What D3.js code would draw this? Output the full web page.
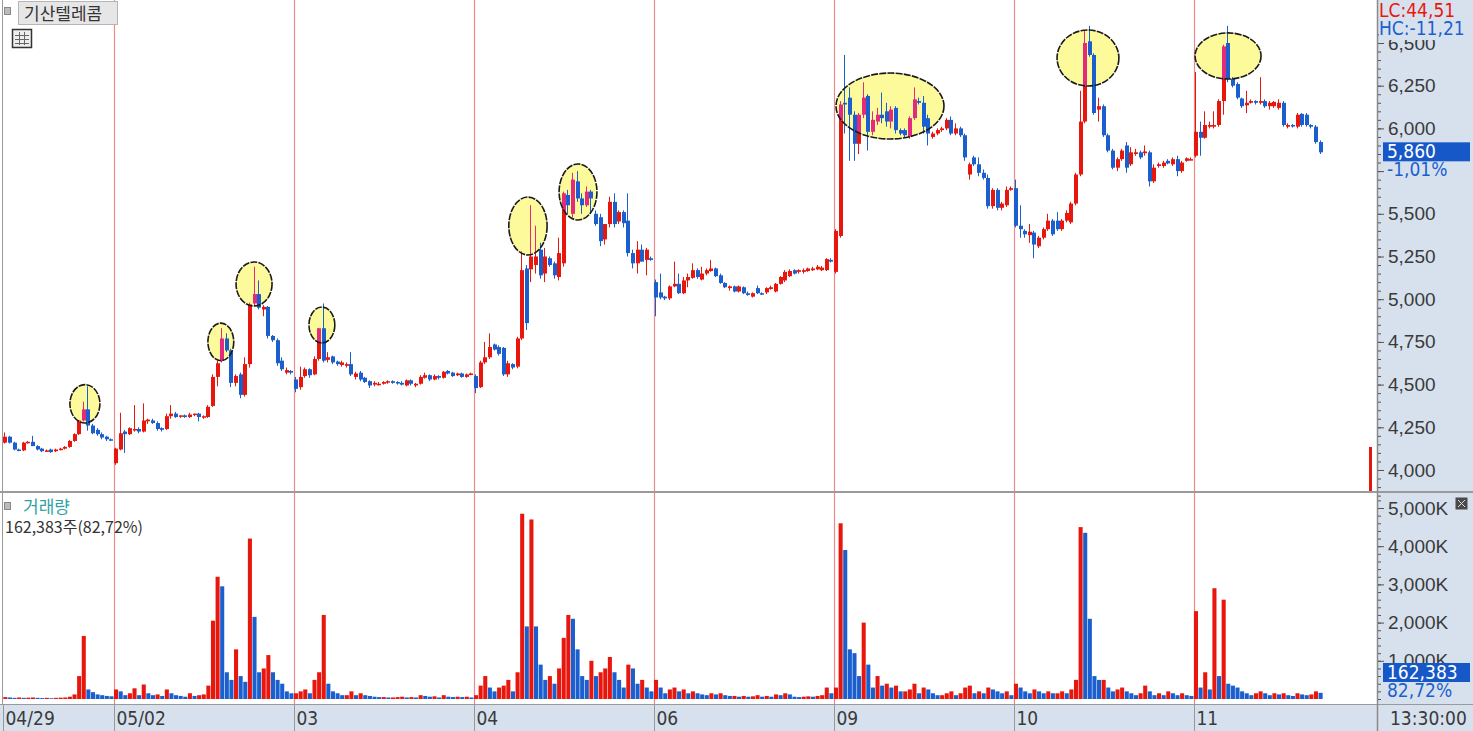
<!DOCTYPE html>
<html>
<head>
<meta charset="utf-8">
<script src="https://cdnjs.cloudflare.com/ajax/libs/d3/7.8.5/d3.min.js"></script>
<style>
body { margin: 0; background: #fff; }
svg { display: block; font-family: "Liberation Sans Narrow", "DejaVu Sans Condensed", "Noto Sans CJK KR", sans-serif; }
.kr { font-family: "Noto Sans CJK KR", sans-serif; }
</style>
</head>
<body>
<div id="chart"></div>
<script>
// 10분봉 / 거래량 데이터 (읽은 값)
const dayLabels = ["04/29", "05/02", "03", "04", "06", "09", "10", "11"];

// [시가, 고가, 저가, 종가]
const d0429 = [
  [4160,4220,4155,4195],[4195,4200,4155,4160],[4160,4165,4115,4120],[4120,4125,4110,4115],
  [4115,4165,4110,4160],[4160,4170,4155,4165],[4165,4200,4140,4140],[4140,4145,4115,4120],
  [4125,4130,4105,4110],[4110,4120,4105,4115],[4120,4125,4100,4105],[4110,4125,4105,4120],
  [4120,4130,4115,4125],[4125,4140,4120,4135],[4135,4175,4130,4170],[4170,4215,4165,4210],
  [4210,4290,4205,4290],[4290,4400,4285,4355],[4355,4490,4230,4260],[4260,4270,4210,4215],
  [4235,4245,4200,4210],[4210,4220,4180,4190],[4195,4200,4170,4180],[4180,4185,4170,4175]
];
const d0502 = [
  [4040,4130,4030,4125],[4120,4335,4115,4215],[4225,4235,4100,4210],[4210,4250,4205,4245],
  [4235,4380,4225,4240],[4240,4250,4215,4225],[4225,4390,4220,4290],[4285,4300,4270,4295],
  [4290,4300,4270,4275],[4275,4285,4230,4240],[4245,4250,4225,4235],[4240,4330,4235,4315],
  [4315,4380,4300,4330],[4330,4340,4305,4310],[4315,4320,4305,4320],[4320,4325,4305,4310],
  [4310,4335,4305,4325],[4325,4330,4315,4330],[4330,4335,4285,4310],[4310,4320,4300,4315],
  [4310,4380,4305,4370],[4375,4560,4370,4545],[4545,4640,4490,4625],[4640,4830,4630,4770],
  [4770,4800,4690,4700],[4700,4710,4485,4510],[4510,4560,4490,4550],[4560,4570,4420,4440],
  [4440,4660,4430,4620],[4620,4980,4600,4970],[4975,5190,4960,5030],[5030,5110,4940,4950],
  [4940,4965,4900,4955],[4955,4960,4770,4785],[4785,4790,4750,4760],[4760,4770,4610,4625],
  [4640,4660,4580,4590],[4570,4600,4560,4585],[4580,4585,4560,4570]
];
const d0503 = [
  [4530,4545,4455,4475],[4485,4605,4470,4545],[4550,4600,4540,4590],[4590,4595,4540,4555],
  [4560,4665,4555,4650],[4650,4830,4640,4830],[4830,4975,4630,4640],[4645,4690,4630,4660],
  [4665,4670,4620,4630],[4635,4640,4610,4620],[4615,4640,4605,4630],[4610,4630,4600,4620],
  [4620,4690,4550,4560],[4545,4575,4530,4565],[4570,4580,4520,4530],[4540,4545,4510,4515],
  [4520,4525,4480,4495],[4500,4520,4490,4510],[4505,4515,4495,4505],[4505,4520,4500,4515],
  [4515,4525,4505,4520],[4520,4525,4505,4510],[4515,4520,4500,4510],[4510,4520,4495,4500],
  [4495,4530,4490,4525],[4525,4530,4495,4505],[4495,4510,4485,4505],[4505,4555,4500,4545],
  [4540,4570,4535,4555],[4555,4560,4520,4530],[4530,4560,4525,4550],[4550,4555,4530,4540],
  [4540,4580,4535,4575],[4580,4585,4560,4565],[4570,4575,4545,4550],[4555,4570,4550,4565],
  [4565,4570,4540,4545],[4545,4565,4540,4560],[4560,4570,4555,4565]
];
const d0504 = [
  [4550,4560,4450,4480],[4485,4640,4480,4630],[4630,4750,4620,4660],[4660,4800,4650,4720],
  [4735,4740,4700,4705],[4720,4730,4670,4680],[4715,4720,4550,4560],[4560,4640,4545,4625],
  [4620,4625,4590,4600],[4605,4780,4595,4770],[4770,5280,4760,5170],[5180,5200,4820,4860],
  [5175,5550,5100,5250],[5200,5430,5150,5250],[5290,5330,5120,5140],[5150,5300,5100,5250],
  [5240,5250,5190,5200],[5210,5220,5120,5140],[5130,5360,5110,5270],[5210,5630,5190,5620],
  [5610,5640,5500,5550],[5500,5740,5480,5700],[5690,5750,5570,5590],[5590,5620,5500,5550],
  [5550,5660,5540,5630],[5630,5640,5500,5590],[5500,5520,5430,5440],[5480,5500,5310,5340],
  [5350,5440,5320,5440],[5440,5600,5420,5570],[5570,5620,5420,5440],[5455,5520,5440,5510],
  [5510,5520,5420,5445],[5460,5620,5250,5270],[5270,5290,5180,5210],[5210,5340,5150,5290],
  [5290,5320,5220,5220],[5230,5300,5140,5290],[5240,5250,5225,5230]
];
const d0506 = [
  [5100,5115,4900,5010],[5040,5150,5000,5010],[5015,5020,4995,5005],[5005,5080,4995,5075],
  [5075,5220,5070,5090],[5090,5150,5030,5035],[5035,5130,5030,5110],[5110,5150,5070,5130],
  [5125,5210,5120,5170],[5170,5180,5120,5130],[5115,5190,5110,5150],[5150,5180,5140,5170],
  [5165,5230,5160,5180],[5180,5185,5130,5135],[5140,5150,5090,5095],[5095,5100,5065,5070],
  [5065,5080,5050,5075],[5075,5080,5040,5045],[5045,5080,5040,5075],[5070,5075,5030,5035],
  [5035,5045,5020,5025],[5015,5040,5010,5035],[5065,5080,5030,5035],[5035,5040,5025,5030],
  [5040,5070,5030,5065],[5060,5080,5055,5070],[5045,5095,5040,5090],[5090,5135,5085,5130],
  [5110,5170,5100,5160],[5135,5175,5130,5165],[5170,5175,5145,5150],[5160,5175,5150,5170],
  [5160,5180,5150,5170],[5165,5185,5160,5180],[5170,5190,5165,5180],[5175,5200,5170,5190],
  [5170,5195,5165,5185],[5170,5240,5165,5235],[5230,5240,5215,5220]
];
const d0509 = [
  [5160,5410,5150,5400],[5370,6160,5360,6140],[6150,6430,5970,6140],[6180,6240,5810,6080],
  [6080,6100,5810,5910],[5910,6090,5850,6080],[6080,6270,6060,6180],[6190,6200,5870,5980],
  [5980,6100,5960,6050],[6040,6120,6020,6080],[6080,6210,6030,6060],[6100,6150,6010,6040],
  [6040,6130,6000,6110],[6120,6130,5970,5990],[5990,6000,5960,5970],[5990,6000,5950,5960],
  [5950,6070,5940,6060],[6060,6240,6050,6170],[6160,6180,6140,6150],[6150,6190,5970,6010],
  [6060,6080,5900,5970],[5950,5980,5940,5970],[5970,6000,5960,5990],[5990,6010,5980,6000],
  [6000,6060,5990,6050],[6050,6070,5960,5970],[5970,6030,5960,6000],[6000,6010,5950,5960],
  [5960,5970,5810,5830],[5730,5800,5700,5790],[5830,5840,5780,5790],[5790,5830,5720,5740],
  [5740,5760,5700,5710],[5710,5730,5530,5545],[5545,5650,5530,5640],[5640,5650,5520,5535],
  [5535,5570,5520,5560],[5550,5660,5540,5640],[5640,5660,5635,5650]
];
const d0510 = [
  [5650,5700,5420,5430],[5430,5550,5360,5410],[5400,5410,5360,5380],[5375,5440,5330,5395],
  [5390,5400,5240,5320],[5310,5370,5300,5360],[5360,5420,5350,5410],[5410,5500,5400,5460],
  [5460,5470,5370,5380],[5460,5510,5400,5410],[5410,5470,5400,5460],[5460,5520,5450,5505],
  [5450,5570,5440,5560],[5560,5740,5550,5730],[5730,6220,5720,6040],[6040,6570,6030,6500],
  [6510,6600,6420,6430],[6430,6440,6080,6090],[6110,6180,6040,6130],[6130,6140,5950,5960],
  [5960,5970,5860,5870],[5870,5880,5760,5770],[5770,5830,5750,5820],[5820,5880,5810,5870],
  [5900,5920,5740,5770],[5790,5890,5780,5860],[5850,5880,5840,5860],[5860,5870,5820,5830],
  [5855,5900,5840,5865],[5860,5870,5660,5690],[5690,5790,5680,5770],[5780,5800,5770,5790],
  [5780,5810,5770,5800],[5810,5820,5790,5795],[5790,5830,5780,5820],[5820,5840,5720,5750],
  [5750,5810,5740,5800],[5810,5830,5805,5825],[5820,5830,5815,5820]
];
const d0511 = [
  [5840,6330,5830,5980],[5980,6040,5840,5945],[5945,6100,5940,6020],[6010,6040,6000,6020],
  [6010,6100,6000,6020],[6020,6170,6010,6160],[6160,6490,6080,6480],[6500,6600,6270,6290],
  [6290,6300,6240,6250],[6260,6270,6170,6180],[6175,6180,6120,6130],[6135,6220,6090,6150],
  [6150,6170,6145,6160],[6160,6165,6140,6150],[6150,6300,6140,6160],[6160,6170,6120,6130],
  [6130,6160,6110,6150],[6130,6160,6120,6155],[6120,6170,6110,6150],[6150,6160,6010,6020],
  [6010,6030,6000,6020],[6020,6025,6005,6015],[6010,6090,6000,6080],[6085,6090,6010,6020],
  [6080,6090,6010,6020],[6020,6025,6000,6010],[6010,6020,5910,5920],[5920,5930,5850,5860]
];

// 거래량 (천주)
const v0429 = [50,40,30,40,30,35,40,30,25,30,20,30,35,40,60,120,600,1650,250,180,120,100,80,70];
const v0502 = [250,200,100,150,280,100,380,150,100,120,80,250,150,100,80,60,150,80,100,120,350,2050,3200,2950,700,500,1300,600,450,4200,2150,700,800,1150,700,500,400,200,150];
const v0503 = [150,200,250,150,500,700,2200,400,200,150,100,100,200,100,150,100,80,60,50,50,40,40,50,60,40,50,40,100,80,60,70,40,100,60,50,60,50,60,40];
const v0504 = [100,350,600,300,200,300,350,500,200,700,4850,1900,4700,1900,900,500,600,400,800,1600,2200,2100,1300,600,500,1000,600,700,800,1100,700,500,300,900,800,400,500,300,200];
const v0506 = [500,300,150,250,300,200,250,150,200,150,120,100,150,120,150,100,80,80,60,80,60,70,100,60,80,60,120,100,150,120,60,50,60,70,60,80,100,300,150];
const v0509 = [300,4600,3900,1300,1200,600,2000,900,300,600,350,400,300,350,200,200,250,400,150,300,250,150,100,100,150,200,100,150,300,350,150,200,150,300,250,200,150,200,100];
const v0510 = [400,300,200,150,250,200,150,200,150,150,200,150,250,500,4500,4350,2100,600,500,500,300,200,250,300,200,150,100,150,350,200,100,150,100,200,150,100,150,100,80];
const v0511 = [2300,300,700,250,2900,600,2600,400,350,300,200,150,100,150,200,150,100,150,120,150,100,80,150,120,100,120,200,162];

// 표시한 구간 (봉 번호, 가격)
const marks = [
  { i0: 14.5, i1: 21.0, p0: 4275, p1: 4500 },
  { i0: 44.4, i1: 50.0, p0: 4640, p1: 4860 },
  { i0: 50.5, i1: 58.3, p0: 4960, p1: 5218 },
  { i0: 66.3, i1: 71.9, p0: 4744, p1: 4954 },
  { i0: 109.6, i1: 117.9, p0: 5259, p1: 5598 },
  { i0: 120.5, i1: 128.7, p0: 5464, p1: 5792 },
  { i0: 180.5, i1: 203.9, p0: 5938, p1: 6324 },
  { i0: 228.4, i1: 241.8, p0: 6248, p1: 6576 },
  { i0: 258.3, i1: 272.6, p0: 6289, p1: 6559 }
];

const dayCandles = [d0429, d0502, d0503, d0504, d0506, d0509, d0510, d0511];
const dayVolumes = [v0429, v0502, v0503, v0504, v0506, v0509, v0510, v0511];

// 배열 합치기
let bars = [];
let dayStart = [];
dayCandles.forEach(function (day, k) {
  dayStart.push(bars.length);
  day.forEach(function (c, j) {
    bars.push({ i: bars.length, o: c[0], h: c[1], l: c[2], c: c[3], v: dayVolumes[k][j] });
  });
});
// 거래량 색: 전봉 거래량 대비
bars.forEach(function (d, i) {
  d.vUp = i === 0 ? true : d.v >= bars[i - 1].v;
});

const W = 1473, H = 731;
const RED = "#e8170e", BLUE = "#1b5fcf", PINK = "#e42a7c";
const AXBG = "#d7e1ee", TXT = "#3a3a3a";
const plotL = 3, step = 4.615, axisX = 1377;
const nBars = bars.length;

const xLin = d3.scaleLinear().domain([0, nBars]).range([plotL, plotL + nBars * step]);
const xb = d3.scaleBand().domain(d3.range(nBars)).range([plotL, plotL + nBars * step]).paddingInner(0.15).paddingOuter(0.075);
const xv = d3.scaleBand().domain(d3.range(nBars)).range([plotL, plotL + nBars * step]).paddingInner(0.12).paddingOuter(0.06);
const y = d3.scaleLinear().domain([4000, 6500]).range([470, 43]);
const yv = d3.scaleLinear().domain([0, 5000]).range([699, 508]);

const svg = d3.select("#chart").append("svg").attr("width", W).attr("height", H);
svg.append("rect").attr("width", W).attr("height", H).attr("fill", "#fff");

// 축 배경
svg.append("rect").attr("x", axisX).attr("y", 0).attr("width", W - axisX).attr("height", H).attr("fill", AXBG);
svg.append("rect").attr("x", 0).attr("y", 704).attr("width", W).attr("height", H - 704).attr("fill", AXBG);

// 날짜 구분선
dayStart.slice(1).forEach(function (s) {
  const xx = Math.round(xLin(s)) + 0.5;
  svg.append("line").attr("x1", xx).attr("x2", xx).attr("y1", 0).attr("y2", 704)
    .attr("stroke", "#ec8a8a").attr("stroke-width", 1.2);
});

function drawCandles(g, inMark) {
  const sel = g.selectAll("g.cd").data(bars).enter().append("g").attr("class", "cd");
  sel.append("line")
    .attr("x1", function (d) { return Math.round(xb(d.i)) + 1.5; })
    .attr("x2", function (d) { return Math.round(xb(d.i)) + 1.5; })
    .attr("y1", function (d) { return y(d.h); })
    .attr("y2", function (d) { return y(d.l); })
    .attr("stroke", function (d) { return d.c >= d.o ? (inMark ? PINK : RED) : BLUE; })
    .attr("stroke-width", 1);
  sel.append("rect")
    .attr("x", function (d) { return Math.round(xb(d.i)); })
    .attr("width", 4)
    .attr("y", function (d) { return y(Math.max(d.o, d.c)); })
    .attr("height", function (d) { return Math.max(1.5, Math.abs(y(d.o) - y(d.c))); })
    .attr("fill", function (d) { return d.c >= d.o ? (inMark ? PINK : RED) : BLUE; });
}

const main = svg.append("g");
drawCandles(main, false);

// 표시 타원
const defs = svg.append("defs");
marks.forEach(function (m, k) {
  const cx = (xLin(m.i0) + xLin(m.i1)) / 2, rx = (xLin(m.i1) - xLin(m.i0)) / 2;
  const cy = (y(m.p0) + y(m.p1)) / 2, ry = Math.abs(y(m.p0) - y(m.p1)) / 2;
  defs.append("clipPath").attr("id", "mk" + k).append("ellipse")
    .attr("cx", cx).attr("cy", cy).attr("rx", rx).attr("ry", ry);
  svg.append("ellipse").attr("cx", cx).attr("cy", cy).attr("rx", rx).attr("ry", ry)
    .attr("fill", "#fdfa9c");
  const g = svg.append("g").attr("clip-path", "url(#mk" + k + ")");
  drawCandles(g, true);
  svg.append("ellipse").attr("cx", cx).attr("cy", cy).attr("rx", rx).attr("ry", ry)
    .attr("fill", "none").attr("stroke", "#1a1a1a").attr("stroke-width", 1.6)
    .attr("stroke-dasharray", "7,1.2");
});

// 거래량
svg.append("g").selectAll("rect").data(bars).enter().append("rect")
  .attr("x", function (d) { return xv(d.i); })
  .attr("width", xv.bandwidth())
  .attr("y", function (d) { return yv(d.v); })
  .attr("height", function (d) { return yv(0) - yv(d.v); })
  .attr("fill", function (d) { return d.vUp ? RED : BLUE; });

// 현재가 범위 표시
svg.append("rect").attr("x", axisX - 8).attr("width", 3).attr("y", y(4135)).attr("height", 491 - y(4135)).attr("fill", RED);

// 패널 경계선
svg.append("line").attr("x1", 0).attr("x2", W).attr("y1", 492).attr("y2", 492).attr("stroke", "#9a9a9a").attr("stroke-width", 2);
svg.append("line").attr("x1", 0).attr("x2", W).attr("y1", 704.5).attr("y2", 704.5).attr("stroke", "#9a9a9a");
svg.append("line").attr("x1", 2.5).attr("x2", 2.5).attr("y1", 0).attr("y2", 704).attr("stroke", "#9a9a9a");
svg.append("line").attr("x1", axisX + 0.5).attr("x2", axisX + 0.5).attr("y1", 0).attr("y2", H).attr("stroke", "#8a8a8a").attr("stroke-width", 1.5);

// 가격 축 (5,750 라벨은 현재가 표시에 가려짐)
const lastBar = bars[nBars - 1];
const yAxis = d3.axisRight(y).tickValues(d3.range(4000, 6501, 250))
  .tickFormat(function (d) { return Math.abs(y(d) - y(lastBar.c) - 18) < 12 ? "" : d3.format(",")(d); })
  .tickSize(6).tickPadding(4);
svg.append("g").attr("transform", "translate(" + (axisX + 1) + ",0)").call(yAxis);
const yMinor = d3.axisRight(y).tickValues(d3.range(3850, 6551, 50)).tickFormat("").tickSize(3);
svg.append("g").attr("transform", "translate(" + (axisX + 1) + ",0)").call(yMinor);

// 거래량 축
const vAxis = d3.axisRight(yv).tickValues(d3.range(1000, 5001, 1000)).tickFormat(function (d) { return d3.format(",")(d) + "K"; }).tickSize(6).tickPadding(4);
svg.append("g").attr("transform", "translate(" + (axisX + 1) + ",0)").call(vAxis);
const vMinor = d3.axisRight(yv).tickValues(d3.range(0, 5201, 200)).tickFormat("").tickSize(3);
svg.append("g").attr("transform", "translate(" + (axisX + 1) + ",0)").call(vMinor);

svg.selectAll(".domain").remove();
svg.selectAll(".tick line").attr("stroke", "#555");
svg.selectAll(".tick text").attr("fill", TXT).style("font-size", "19px");

// LC / HC
svg.append("rect").attr("x", axisX + 2).attr("y", 0).attr("width", W - axisX - 2).attr("height", 40).attr("fill", AXBG);
svg.append("text").attr("x", axisX + 2).attr("y", 17).attr("fill", RED).style("font-size", "19px").text("LC:44,51");
svg.append("text").attr("x", axisX + 2).attr("y", 35).attr("fill", BLUE).style("font-size", "19px").text("HC:-11,21");

// 현재가 태그
const tagY = y(lastBar.c);
svg.append("rect").attr("x", 1383).attr("y", tagY - 10).attr("width", 87).attr("height", 19).attr("fill", "#1658c8");
svg.append("text").attr("x", 1387).attr("y", tagY + 6).attr("fill", "#fff").style("font-size", "19px").text(d3.format(",")(lastBar.c));
svg.append("text").attr("x", 1387).attr("y", tagY + 24).attr("fill", BLUE).style("font-size", "19px").text("-1,01%");

// 거래량 태그
svg.append("rect").attr("x", 1383).attr("y", 663).attr("width", 87).attr("height", 19).attr("fill", "#1658c8");
svg.append("text").attr("x", 1387).attr("y", 679).attr("fill", "#fff").style("font-size", "19px").text("162,383");
svg.append("text").attr("x", 1387).attr("y", 697).attr("fill", BLUE).style("font-size", "19px").text("82,72%");

// 작은 아이콘
svg.append("rect").attr("x", 1455.5).attr("y", 497.5).attr("width", 12).attr("height", 12).attr("fill", "#4a4a4a");
svg.append("path").attr("d", "M1458,500 l7,7 M1465,500 l-7,7").attr("stroke", "#ddd").attr("stroke-width", 1);

// X 축 (날짜)
dayStart.forEach(function (s, k) {
  const xx = Math.round(xLin(s)) + 0.5;
  svg.append("line").attr("x1", xx).attr("x2", xx).attr("y1", 705).attr("y2", H).attr("stroke", "#999");
  svg.append("text").attr("x", xx + 2).attr("y", 725).attr("fill", TXT).style("font-size", "19px").text(dayLabels[k]);
});
svg.append("text").attr("x", 1390).attr("y", 725).attr("fill", TXT).style("font-size", "19px").text("13:30:00");

// 종목명 / 범례
svg.append("rect").attr("x", 4.5).attr("y", 7.5).attr("width", 6).attr("height", 7).attr("fill", "#bbb").attr("stroke", "#888");
svg.append("rect").attr("x", 18.5).attr("y", 1.5).attr("width", 99).attr("height", 23).attr("fill", "#e6e6e6").attr("stroke", "#b5b5b5");
svg.append("text").attr("class", "kr").attr("x", 24).attr("y", 20).attr("fill", "#333").style("font-size", "17px").text("기산텔레콤");
svg.append("rect").attr("x", 12.5).attr("y", 29.5).attr("width", 19).attr("height", 18).attr("fill", "#eee").attr("stroke", "#333").attr("stroke-width", 1.5);
svg.append("path").attr("d", "M15,35.5 h14 M15,39.5 h14 M15,43.5 h14 M19.5,32 v13 M24.5,32 v13").attr("stroke", "#666").attr("stroke-width", 1);

svg.append("rect").attr("x", 4.5).attr("y", 502.5).attr("width", 6).attr("height", 7).attr("fill", "#bbb").attr("stroke", "#888");
svg.append("text").attr("class", "kr").attr("x", 23).attr("y", 513).attr("fill", "#2ea3a3").style("font-size", "17px").text("거래량");
svg.append("text").attr("class", "kr").attr("x", 5).attr("y", 533).attr("fill", "#333").style("font-size", "16px").text("162,383주(82,72%)");
</script>
</body>
</html>
